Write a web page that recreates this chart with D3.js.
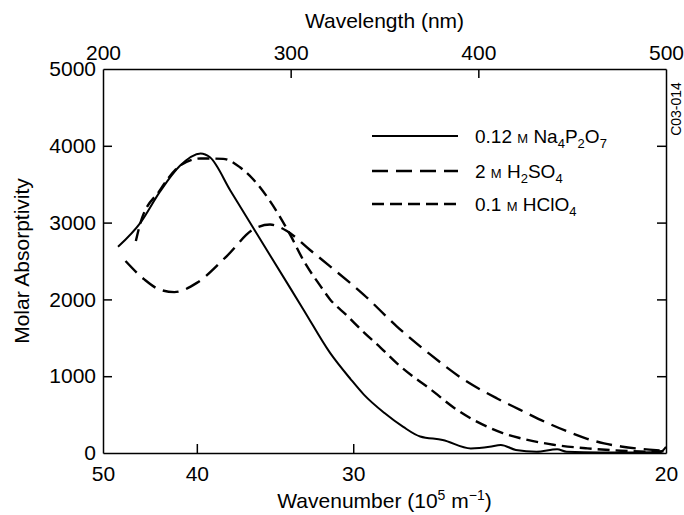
<!DOCTYPE html>
<html>
<head>
<meta charset="utf-8">
<script src="https://cdn.jsdelivr.net/npm/d3@7"></script>
<style>
  body { margin: 0; background: #fff; }
  svg { font-family: "Liberation Sans", Arial, sans-serif; }
  .axis path, .axis line { stroke: #000; stroke-width: 1.5; }
  .axis text { font-size: 21px; fill: #000; font-family: "Liberation Sans", Arial, sans-serif; }
</style>
</head>
<body>
<div class="Canvas"></div>
<script>
// Wavelength (nm) and molar absorptivity
const naWave = [208, 220, 230, 241, 252, 257, 268, 289, 307, 321, 332, 339, 350, 360, 369, 381, 396, 406, 412, 420, 431, 442, 447, 465, 486, 497, 500];
const naAbs  = [2685, 3000, 3390, 3740, 3900, 3850, 3412, 2576, 1860, 1303, 960, 760, 520, 340, 215, 170, 60, 80, 105, 40, 17, 48, 17, 7, 7, 13, 80];

const h2Wave = [212, 222, 230, 238, 250, 266, 280, 289, 298, 310, 321, 339, 356.5, 374, 392, 410, 422, 436, 448, 458, 467, 476, 493, 500];
const h2Abs  = [2500, 2260, 2130, 2095, 2215, 2565, 2910, 2975, 2890, 2650, 2430, 2060, 1650, 1290, 960, 710, 565, 400, 275, 185, 125, 85, 40, 26];

const hcWave = [217.5, 220, 230, 241, 252, 264, 273, 280, 289, 300, 307, 316, 321, 330, 339, 348, 356.5, 365, 374, 387, 396, 404.5, 413, 422, 440, 458, 476, 493, 500];
const hcAbs  = [2760, 3000, 3410, 3740, 3835, 3830, 3720, 3565, 3280, 2830, 2500, 2170, 2000, 1790, 1570, 1370, 1170, 1000, 840, 590, 450, 345, 260, 195, 108, 60, 30, 17, 26];

const yTicks = [0, 1000, 2000, 3000, 4000, 5000];
const topTicks = [200, 300, 400, 500];
const bottomTicks = [50, 40, 30, 20]; // wavenumber, 10^5 m^-1

const W = 684, H = 515;
const mLeft = 103, mRight = 666, mTop = 69, mBottom = 453;

const svg = d3.select('.Canvas').append('svg').attr('width', W).attr('height', H);

const x = d3.scaleLinear().domain([200, 500]).range([mLeft, mRight]);
const y = d3.scaleLinear().domain([0, 5000]).range([mBottom, mTop]);

// Axes, ticks pointing inward
svg.append('g').attr('class', 'axis').attr('transform', `translate(0,${mBottom})`)
    .call(d3.axisBottom(x).tickValues(bottomTicks.map((v) => 10000 / v))
        .tickFormat((d) => Math.round(10000 / d)).tickSizeInner(-9).tickSizeOuter(0).tickPadding(13));
svg.append('g').attr('class', 'axis').attr('transform', `translate(0,${mTop})`)
    .call(d3.axisTop(x).tickValues(topTicks).tickSizeInner(-9).tickSizeOuter(0).tickPadding(9));
svg.append('g').attr('class', 'axis').attr('transform', `translate(${mLeft},0)`)
    .call(d3.axisLeft(y).tickValues(yTicks).tickFormat(d3.format('d')).tickSizeInner(-9).tickSizeOuter(0).tickPadding(7));
svg.append('g').attr('class', 'axis').attr('transform', `translate(${mRight},0)`)
    .call(d3.axisRight(y).tickValues(yTicks).tickSizeInner(-9).tickSizeOuter(0).tickFormat(''));

// Remove tick marks sitting on the corners
svg.selectAll('.axis .tick line').filter(function () {
    const p = this.parentNode.getAttribute('transform');
    return /translate\((103|666)(\.\d+)?,|,(69|453)(\.\d+)?\)/.test(p);
}).remove();

// Axis titles
svg.append('text').attr('x', (mLeft + mRight) / 2).attr('y', 28).attr('text-anchor', 'middle')
    .attr('font-size', '21px').text('Wavelength (nm)');
const xt = svg.append('text').attr('x', (mLeft + mRight) / 2).attr('y', 508).attr('text-anchor', 'middle')
    .attr('font-size', '21px');
xt.append('tspan').text('Wavenumber (10');
xt.append('tspan').attr('font-size', '14px').attr('dy', -8).text('5');
xt.append('tspan').attr('dy', 8).text(' m');
xt.append('tspan').attr('font-size', '14px').attr('dy', -8).text('\u22121');
xt.append('tspan').attr('dy', 8).text(')');

svg.append('text').attr('transform', `translate(29,${(mTop + mBottom) / 2}) rotate(-90)`)
    .attr('text-anchor', 'middle').attr('font-size', '21px').text('Molar Absorptivity');

svg.append('text').attr('transform', 'translate(681,109) rotate(-90)')
    .attr('text-anchor', 'middle').attr('font-size', '14px').text('C03-014');

// Curves
const series = [
    { wave: naWave, abs: naAbs, dash: null, width: 2 },
    { wave: h2Wave, abs: h2Abs, dash: '16,8', width: 2.4 },
    { wave: hcWave, abs: hcAbs, dash: '12,6', width: 2.4 },
];
const line = d3.line().x((d) => x(d[0])).y((d) => y(d[1])).curve(d3.curveMonotoneX);
series.forEach((s) => {
    svg.append('path')
        .datum(s.wave.map((w, i) => [w, s.abs[i]]))
        .attr('fill', 'none')
        .attr('stroke', '#000')
        .attr('stroke-width', s.width)
        .attr('stroke-dasharray', s.dash)
        .attr('d', line);
});

// Legend
const legend = [
    { y: 136, dash: null, width: 2, parts: [['0.12 ', 19, 0], ['M', 13, 0], [' Na', 19, 0], ['4', 13, 5], ['P', 19, -5], ['2', 13, 5], ['O', 19, -5], ['7', 13, 5]] },
    { y: 171, dash: '16,8', width: 2.4, parts: [['2 ', 19, 0], ['M', 13, 0], [' H', 19, 0], ['2', 13, 5], ['SO', 19, -5], ['4', 13, 5]] },
    { y: 204, dash: '12,6', width: 2.4, parts: [['0.1 ', 19, 0], ['M', 13, 0], [' HClO', 19, 0], ['4', 13, 5]] },
];
legend.forEach((l) => {
    svg.append('line').attr('x1', 372).attr('x2', 458).attr('y1', l.y).attr('y2', l.y)
        .attr('stroke', '#000').attr('stroke-width', l.width).attr('stroke-dasharray', l.dash);
    const t = svg.append('text').attr('x', 475).attr('y', l.y + 7).attr('font-size', '19px');
    l.parts.forEach((p) => {
        t.append('tspan').attr('font-size', p[1] + 'px').attr('dy', p[2]).text(p[0]);
    });
});
</script>
</body>
</html>
